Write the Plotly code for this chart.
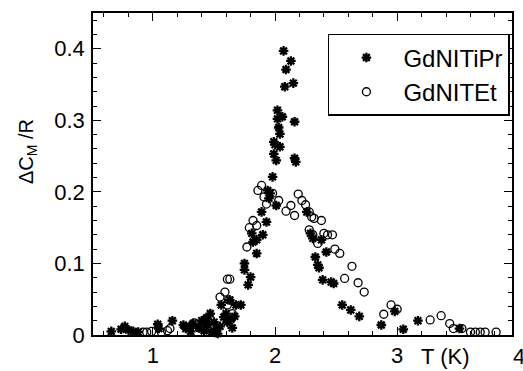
import plotly.graph_objects as go

# GdNITiPr (asterisks)
tipr_T = [0.66, 0.74, 0.77, 0.80, 0.84, 0.88, 1.04, 1.05, 1.16, 1.25, 1.27, 1.30, 1.31, 1.33,
          1.38, 1.40, 1.42, 1.44, 1.45, 1.47, 1.48, 1.50, 1.52, 1.53, 1.55, 1.56, 1.58, 1.60,
          1.61, 1.63, 1.64, 1.65, 1.67, 1.68, 1.72, 1.75, 1.75, 1.78, 1.80, 1.81, 1.82, 1.85,
          1.85, 1.89, 1.90, 1.93, 1.94, 1.95, 1.96, 1.98, 1.99, 1.99, 2.00, 2.01, 2.01, 2.02,
          2.02, 2.03, 2.04, 2.04, 2.06, 2.07, 2.08, 2.09, 2.13, 2.15, 2.16, 2.16, 2.17, 2.26,
          2.29, 2.31, 2.33, 2.35, 2.36, 2.38, 2.42, 2.39, 2.46, 2.48, 2.55, 2.62, 2.69, 2.87,
          2.98, 3.05, 3.17, 3.51]
tipr_C = [0.005, 0.008, 0.012, 0.007, 0.005, 0.004, 0.015, 0.009, 0.020, 0.014, 0.009, 0.012,
          0.005, 0.016, 0.010, 0.020, 0.006, 0.024, 0.014, 0.030, 0.004, 0.018, 0.008, 0.002,
          0.012, 0.042, 0.025, 0.030, 0.018, 0.049, 0.022, 0.010, 0.026, 0.042, 0.042, 0.100,
          0.091, 0.070, 0.081, 0.142, 0.130, 0.114, 0.133, 0.172, 0.140, 0.158, 0.202, 0.191,
          0.198, 0.221, 0.253, 0.270, 0.266, 0.244, 0.181, 0.314, 0.302, 0.290, 0.281, 0.263,
          0.305, 0.397, 0.347, 0.371, 0.383, 0.352, 0.298, 0.247, 0.242, 0.172, 0.142, 0.135,
          0.109, 0.098, 0.094, 0.133, 0.116, 0.077, 0.074, 0.072, 0.042, 0.035, 0.026, 0.014,
          0.033, 0.008, 0.020, 0.009]

# GdNITEt (open circles)
et_T = [0.92, 0.95, 0.99, 1.07, 1.12, 1.14, 1.34, 1.38, 1.42, 1.47, 1.55, 1.59, 1.61, 1.62,
        1.61, 1.63, 1.65, 1.77, 1.79, 1.82, 1.85, 1.86, 1.89, 1.91, 1.93, 1.98, 2.03, 2.09,
        2.13, 2.16, 2.19, 2.22, 2.25, 2.28, 2.30, 2.32, 2.38, 2.28, 2.31, 2.35, 2.40, 2.43,
        2.47, 2.49, 2.53, 2.57, 2.63, 2.68, 2.73, 2.89, 2.95, 3.00, 3.27, 3.36, 3.43, 3.46,
        3.53, 3.60, 3.64, 3.68, 3.72, 3.81, 3.98]
et_C = [0.004, 0.004, 0.005, 0.004, 0.006, 0.009, 0.017, 0.010, 0.020, 0.013, 0.053, 0.060,
        0.042, 0.049, 0.078, 0.078, 0.030, 0.123, 0.150, 0.160, 0.153, 0.202, 0.209, 0.193,
        0.183, 0.198, 0.188, 0.173, 0.181, 0.167, 0.197, 0.188, 0.182, 0.172, 0.165, 0.163,
        0.160, 0.147, 0.140, 0.128, 0.142, 0.140, 0.140, 0.120, 0.114, 0.079, 0.096, 0.073,
        0.060, 0.029, 0.042, 0.036, 0.021, 0.027, 0.016, 0.009, 0.009, 0.004, 0.004, 0.004,
        0.004, 0.004, 0.009]

x_ticks = [1, 2, 3]
y_ticks = [0, 0.1, 0.2, 0.3, 0.4]
y_tick_text = ["0", "0.1", "0.2", "0.3", "0.4"]

FONT = "Liberation Sans, Arial, sans-serif"
X0, X1 = 0.51, 3.94

fig = go.Figure()
fig.add_trace(go.Scatter(
    x=tipr_T, y=tipr_C, mode="markers", name="GdNITiPr",
    marker=dict(symbol="asterisk", size=8, color="black",
                line=dict(color="black", width=2.3)),
    cliponaxis=False))
fig.add_trace(go.Scatter(
    x=et_T, y=et_C, mode="markers", name="GdNITEt",
    marker=dict(symbol="circle-open", size=8, color="black",
                line=dict(color="black", width=1.3)),
    cliponaxis=False))

axis_common = dict(showline=True, linecolor="black", linewidth=1.5, mirror="ticks",
                   ticks="inside", ticklen=8, tickwidth=1.2, tickcolor="black",
                   showgrid=False, zeroline=False, automargin=False,
                   tickfont=dict(family=FONT, size=22, color="black"))

fig.update_xaxes(range=[X0, X1], tickmode="array", tickvals=x_ticks,
                 ticktext=[str(v) for v in x_ticks], ticklabelstandoff=0,
                 minor=dict(dtick=0.2, tick0=0, ticks="inside", ticklen=4,
                            tickcolor="black", tickwidth=1),
                 **axis_common)
fig.update_yaxes(range=[0, 0.45], tickmode="array", tickvals=y_ticks,
                 ticktext=y_tick_text, ticklabelstandoff=2,
                 minor=dict(dtick=0.02, tick0=0, ticks="inside", ticklen=4,
                            tickcolor="black", tickwidth=1),
                 **axis_common)

plot_w = 523 - 93 - 11
plot_h = 371 - 13 - 36

def xpaper(v):
    return (v - X0) / (X1 - X0)

fig.add_annotation(x=xpaper(4), y=-0.066, xref="paper", yref="paper", text="4",
                   showarrow=False, font=dict(family=FONT, size=22, color="black"),
                   xanchor="center", yanchor="middle")
fig.add_annotation(x=xpaper(3.39), y=-0.066, xref="paper", yref="paper", text="T (K)",
                   showarrow=False, font=dict(family=FONT, size=22, color="black"),
                   xanchor="center", yanchor="middle")
fig.add_annotation(x=(27 - 93) / plot_w, y=(335 - 152) / plot_h, xref="paper", yref="paper",
                   text="ΔC<sub>M</sub> /R", showarrow=False, textangle=-90,
                   xanchor="center", yanchor="middle",
                   font=dict(family=FONT, size=20, color="black"))

fig.update_layout(
    width=523, height=371,
    margin=dict(l=93, r=11, t=13, b=36),
    paper_bgcolor="white", plot_bgcolor="white",
    showlegend=True,
    legend=dict(x=0.995, y=0.935, xanchor="right", yanchor="top",
                bordercolor="black", borderwidth=1.5, bgcolor="white",
                font=dict(family=FONT, size=24, color="black"),
                itemwidth=64),
)

fig.write_html("out.html", config={"displayModeBar": False},
               post_script="document.body.style.margin='0';document.body.style.overflow='hidden';")
